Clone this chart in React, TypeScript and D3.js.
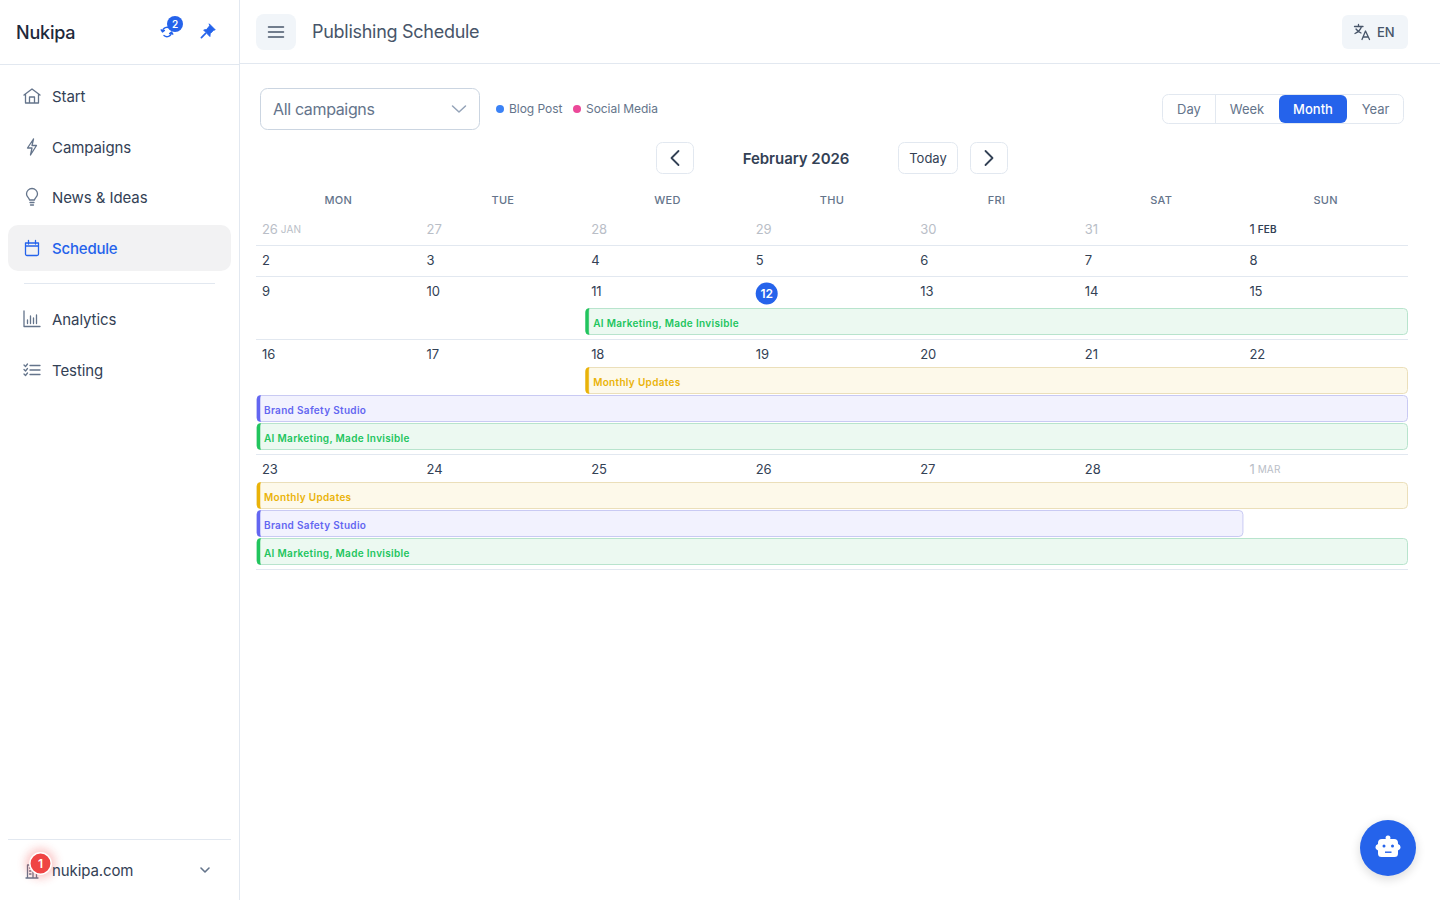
import React from 'react'
import * as d3 from 'd3'

const FONT = 'Inter, sans-serif'

const weekdays = ['MON', 'TUE', 'WED', 'THU', 'FRI', 'SAT', 'SUN']
const weeks = [
    [26, 27, 28, 29, 30, 31, 1],
    [2, 3, 4, 5, 6, 7, 8],
    [9, 10, 11, 12, 13, 14, 15],
    [16, 17, 18, 19, 20, 21, 22],
    [23, 24, 25, 26, 27, 28, 1],
]
// [week, weekday] of things that need special treatment
const mutedDays = [[0, 0], [0, 1], [0, 2], [0, 3], [0, 4], [0, 5], [4, 6]]
const monthTags = [
    {week: 0, day: 0, tag: 'JAN'},
    {week: 0, day: 6, tag: 'FEB'},
    {week: 4, day: 6, tag: 'MAR'},
]
const today = {week: 2, day: 3}

type Kind = 'green' | 'yellow' | 'indigo'
const AI = 'AI Marketing, Made Invisible'
const MONTHLY = 'Monthly Updates'
const BRAND = 'Brand Safety Studio'
// spans run from weekday "from" up to (not including) weekday "to"; lane = order within the week
const events: {title: string; kind: Kind; week: number; from: number; to: number}[] = [
    {title: AI, kind: 'green', week: 2, from: 2, to: 7},
    {title: MONTHLY, kind: 'yellow', week: 3, from: 2, to: 7},
    {title: BRAND, kind: 'indigo', week: 3, from: 0, to: 7},
    {title: AI, kind: 'green', week: 3, from: 0, to: 7},
    {title: MONTHLY, kind: 'yellow', week: 4, from: 0, to: 7},
    {title: BRAND, kind: 'indigo', week: 4, from: 0, to: 6},
    {title: AI, kind: 'green', week: 4, from: 0, to: 7},
]
const kindColors: Record<Kind, {bar: string; fill: string; line: string; text: string}> = {
    green: {bar: '#22c55e', fill: '#ecf9f1', line: '#b8e4cd', text: '#22c55e'},
    yellow: {bar: '#eab308', fill: '#fdf9ea', line: '#ebdfba', text: '#eab308'},
    indigo: {bar: '#6366f1', fill: '#f2f2fe', line: '#c9caf3', text: '#6366f1'},
}

const navTop = ['Start', 'Campaigns', 'News & Ideas', 'Schedule']
const navBottom = ['Analytics', 'Testing']
const legend = [
    {label: 'Blog Post', color: '#3b82f6'},
    {label: 'Social Media', color: '#ec4899'},
]

const col = d3.scaleLinear().domain([0, 7]).range([256, 1408])

// row layout follows how many event lanes a week holds
const LANE = 28
const rowInfo = (() => {
    let y = 214.5
    return weeks.map((_, w) => {
        const lanes = events.filter((e) => e.week === w).length
        const offset = w === today.week ? 32 : 28
        const h = lanes ? offset + lanes * LANE + 3 : 31
        const r = {top: y, offset, bottom: y + h}
        y += h
        return r
    })
})()

const Line = ({x1, x2, y, c = '#e2e8f0'}: {x1: number; x2: number; y: number; c?: string}) => (
    <line x1={x1} x2={x2} y1={y} y2={y} stroke={c} />
)

const Txt = (p: {x: number; y: number; s: number; c: string; w?: number; a?: string; ls?: number; children: React.ReactNode}) => (
    <text
        x={p.x}
        y={p.y - 0.75}
        fontSize={p.s}
        fill={p.c}
        fontWeight={p.w ?? 400}
        textAnchor={p.a ?? 'start'}
        letterSpacing={p.ls}
        dominantBaseline="central"
    >
        {p.children}
    </text>
)

const Icon = ({x, y, c = '#64748b', sw = 1.3, d}: {x: number; y: number; c?: string; sw?: number; d: string}) => (
    <path transform={`translate(${x},${y})`} d={d} fill="none" stroke={c} strokeWidth={sw} strokeLinecap="round" strokeLinejoin="round" />
)

const icons: Record<string, {y: number; d: string; c?: string}> = {
    Start: {y: 96, d: 'M-8 -1 L0 -7 L8 -1 M-6.5 -2 V7 H6.5 V-2 M-2.5 7 V1 H2.5 V7'},
    Campaigns: {y: 147, d: 'M1.5 -8 L-4.5 1 H0 L-1.5 8 L4.5 -1.5 H0 Z'},
    'News & Ideas': {y: 197, d: 'M-2.5 3 C-2.5 1 -5.5 0 -5.5 -3 A5.5 5.5 0 0 1 5.5 -3 C5.5 0 2.5 1 2.5 3 Z M-2 5.5 H2 M-1.5 8 H1.5'},
    Schedule: {y: 248, c: '#2563eb', d: 'M-6.5 -5 H6.5 V6 A1.5 1.5 0 0 1 5 7.5 H-5 A1.5 1.5 0 0 1 -6.5 6 Z M-6.5 -2 H6.5 M-3.5 -7.5 V-4 M3.5 -7.5 V-4'},
    Analytics: {y: 319, d: 'M-8 -8 V7.5 H8 M-4.5 4.5 V1 M-1.5 4.5 V-3 M1.5 4.5 V-1 M4.5 4.5 V-4'},
    Testing: {y: 370, d: 'M-2 -4.5 H8 M-2 0 H8 M-2 4.5 H8 M-8 -5 L-6.5 -3.5 L-4.5 -6 M-8 -0.5 L-6.5 1 L-4.5 -1.5 M-8 4 L-6.5 5.5 L-4.5 3'},
}

// left accent bar + rounded box for one calendar span
const EventBar = ({title, kind, week, from, to}: (typeof events)[number]) => {
    const lane = events.filter((e) => e.week === week).findIndex((e) => e.title === title)
    const colors = kindColors[kind]
    const y0 = rowInfo[week].top + rowInfo[week].offset + lane * LANE
    const x0 = col(from) + (from === 0 ? 1 : 0.5)
    const x1 = col(to) - 0.5
    const h = 26
    const bar = d3.path()
    bar.moveTo(x0 + 3.5, y0)
    bar.quadraticCurveTo(x0, y0, x0, y0 + 3.5)
    bar.lineTo(x0, y0 + h - 3.5)
    bar.quadraticCurveTo(x0, y0 + h, x0 + 3.5, y0 + h)
    bar.quadraticCurveTo(x0 + 3, y0 + h - 1.5, x0 + 3, y0 + h - 3.5)
    bar.lineTo(x0 + 3, y0 + 3.5)
    bar.quadraticCurveTo(x0 + 3, y0 + 1.5, x0 + 3.5, y0)
    bar.closePath()
    return (
        <g>
            <rect x={x0} y={y0} width={x1 - x0} height={h} rx={4} fill={colors.fill} stroke={colors.line} />
            <path d={bar.toString()} fill={colors.bar} stroke={colors.bar} strokeWidth={0.5} />
            <Txt x={col(from) + 8} y={y0 + 15} s={10} w={600} c={colors.text} ls={0.32}>{title}</Txt>
        </g>
    )
}

const Sidebar = () => (
    <g>
        <Txt x={16} y={33} s={18} w={500} c="#1e293b" ls={-0.2}>Nukipa</Txt>
        <Icon x={167} y={32} c="#2563eb" sw={1.4} d="M-4.5 -0.5 A4.5 4.5 0 0 1 3 -3.5 M4.5 0.5 A4.5 4.5 0 0 1 -3 3.5 M-5.8 -2.2 L-4.5 0 L-2.6 -1.5 M5.8 2.2 L4.5 0 L2.6 1.5" />
        <circle cx={175} cy={24} r={8} fill="#2563eb" />
        <Txt x={175} y={25} s={10} w={600} a="middle" c="#fff">2</Txt>
        <path transform="translate(208,31) scale(1.2)" fill="#2563eb" stroke="#2563eb" strokeWidth={0.8} strokeLinejoin="round"
            d="M1 -6 L6 -1 L4.6 -0.6 L1.8 2.2 L1.6 4.6 L-3.6 -0.8 L-1.2 -1.2 L1.4 -4.4 Z" />
        <path transform="translate(208,31) scale(1.2)" d="M-2 2 L-5.5 5.5" stroke="#2563eb" strokeWidth={1.4} strokeLinecap="round" />
        <Line x1={0} x2={239} y={64.5} />
        <line x1={239.5} x2={239.5} y1={0} y2={900} stroke="#e2e8f0" />

        <rect x={8} y={225} width={223} height={46} rx={10} fill="#f2f2f3" />
        <Line x1={24} x2={215} y={283.5} />
        <Line x1={8} x2={231} y={839.5} />
        {[...navTop, ...navBottom].map((name) => (
            <g key={name}>
                <Icon x={32} y={icons[name].y} c={icons[name].c} d={icons[name].d} />
                <Txt x={52} y={icons[name].y + 0.75} s={15} w={name === 'Schedule' ? 500 : 400} c={name === 'Schedule' ? '#2563eb' : '#334155'} ls={name === 'Schedule' ? -0.2 : -0.08}>{name}</Txt>
            </g>
        ))}

        <Icon x={32} y={871} c="#64748b" d="M-6 7 H6 M-4.5 7 V-6 H1 V7 M1 0 H4.5 V7 M-2.5 -3 H-1 M-2.5 0 H-1 M-2.5 3 H-1" />
        <circle cx={40.5} cy={863.5} r={15} fill="#ef4444" opacity={0.3} filter="url(#soft)" />
        <circle cx={40.5} cy={863.5} r={10.7} fill="#ef4444" stroke="#fff" strokeWidth={1.5} />
        <Txt x={40.5} y={864.5} s={12} w={600} a="middle" c="#fff">1</Txt>
        <Txt x={52} y={871} s={15} w={400} c="#334155" ls={-0.1}>nukipa.com</Txt>
        <Icon x={205} y={870} sw={1.6} d="M-4 -2 L0 2 L4 -2" />
    </g>
)

const Toolbar = () => (
    <g>
        <Line x1={240} x2={1440} y={63.5} />
        <rect x={256} y={14} width={40} height={36} rx={8} fill="#f1f5f9" />
        <Icon x={276} y={32} c="#475569" sw={1.5} d="M-7.5 -5 H7.5 M-7.5 0 H7.5 M-7.5 5 H7.5" />
        <Txt x={312} y={32} s={18} c="#475569" ls={-0.28}>Publishing Schedule</Txt>
        <rect x={1342} y={15} width={66} height={34} rx={6} fill="#f1f5f9" />
        <Icon x={1362} y={32} c="#475569" d="M-7.5 -5.5 H1 M-3.5 -7.5 V-5.5 M-0.5 -5.5 C-1.5 -2 -4 0 -7 1.5 M-6 -3 C-4.5 -1 -3 0 -1 1 M0 7.5 L3.5 -1 L7.5 7.5 M1.3 5 H6" />
        <Txt x={1377} y={32.5} s={13} w={500} c="#475569">EN</Txt>

        <rect x={260.5} y={88.5} width={219} height={41} rx={7} fill="#fff" stroke="#cbd5e1" />
        <Txt x={273} y={109.5} s={16} c="#64748b" ls={-0.35}>All campaigns</Txt>
        <Icon x={459} y={109} c="#94a3b8" sw={1.5} d="M-6.5 -3 L0 3 L6.5 -3" />

        {legend.map((l, i) => (
            <g key={l.label}>
                <circle cx={i ? 577 : 500} cy={109} r={4} fill={l.color} />
                <Txt x={i ? 586 : 509} y={109} s={12} c="#64748b" ls={-0.05}>{l.label}</Txt>
            </g>
        ))}

        <rect x={1162.5} y={94.5} width={241} height={29} rx={6} fill="#fff" stroke="#e2e8f0" />
        <line x1={1215.5} x2={1215.5} y1={95} y2={123} stroke="#e2e8f0" />
        <rect x={1279} y={95} width={68} height={28} rx={6} fill="#2563eb" />
        <Txt x={1189} y={110} s={13} a="middle" c="#64748b">Day</Txt>
        <Txt x={1247} y={110} s={13} a="middle" c="#64748b">Week</Txt>
        <Txt x={1313} y={110} s={13} w={500} a="middle" c="#fff">Month</Txt>
        <Txt x={1375.5} y={110} s={13} a="middle" c="#64748b">Year</Txt>

        <rect x={656.5} y={142.5} width={37} height={31} rx={6} fill="#fff" stroke="#e2e8f0" />
        <Icon x={675} y={158} c="#334155" sw={1.8} d="M3.5 -7 L-3.5 0 L3.5 7" />
        <Txt x={796} y={159} s={15} w={600} a="middle" c="#334155" ls={-0.05}>February 2026</Txt>
        <rect x={898.5} y={142.5} width={59} height={31} rx={6} fill="#fff" stroke="#e2e8f0" />
        <Txt x={928} y={159} s={13} w={400} a="middle" c="#334155">Today</Txt>
        <rect x={970.5} y={142.5} width={37} height={31} rx={6} fill="#fff" stroke="#e2e8f0" />
        <Icon x={989} y={158} c="#334155" sw={1.8} d="M-3.5 -7 L3.5 0 L-3.5 7" />
    </g>
)

const Calendar = () => (
    <g>
        {weekdays.map((d, i) => (
            <Txt key={d} x={(col(i) + col(i + 1)) / 2} y={200.5} s={11} w={500} a="middle" c="#64748b" ls={0.3}>{d}</Txt>
        ))}
        {weeks.map((days, w) => (
            <g key={w}>
                <Line x1={256} x2={1408} y={rowInfo[w].bottom} />
                {days.map((n, d) => {
                    const muted = mutedDays.some(([mw, md]) => mw === w && md === d)
                    const tag = monthTags.find((t) => t.week === w && t.day === d)
                    const isToday = today.week === w && today.day === d
                    const c = muted ? '#b9bec7' : '#334155'
                    const x = col(d) + 6
                    const y = rowInfo[w].top + 14
                    if (isToday) {
                        return (
                            <g key={d}>
                                <circle cx={x + 11} cy={rowInfo[w].top + 17} r={11} fill="#2563eb" />
                                <Txt x={x + 11} y={rowInfo[w].top + 17.5} s={12} w={600} a="middle" c="#fff">{n}</Txt>
                            </g>
                        )
                    }
                    return (
                        <text key={d} x={x} y={y} fontSize={13} fill={c} dominantBaseline="central" letterSpacing={-0.1}>
                            {n}
                            {tag && (
                                <tspan dx={3} fontSize={10} fontWeight={muted ? 400 : 600} letterSpacing={0.2}>{tag.tag}</tspan>
                            )}
                        </text>
                    )
                })}
            </g>
        ))}
        {events.map((e, i) => <EventBar key={i} {...e} />)}
    </g>
)

const Fab = () => (
    <g>
        <circle cx={1388} cy={851} r={29} fill="#000" opacity={0.12} filter="url(#soft)" />
        <circle cx={1388} cy={848} r={28} fill="#2563eb" />
        <path fill="#fff" d="M1388 835.5 a2.4 2.4 0 0 1 2.2 3.5 h3.8 a4 4 0 0 1 4 4 v1 a3.4 3.4 0 0 1 0 6.6 v2.9 a3.5 3.5 0 0 1 -3.5 3.5 h-13 a3.5 3.5 0 0 1 -3.5 -3.5 v-2.9 a3.4 3.4 0 0 1 0 -6.6 v-1 a4 4 0 0 1 4 -4 h3.8 a2.4 2.4 0 0 1 2.2 -3.5 Z" />
        <circle cx={1384} cy={846} r={1.5} fill="#2563eb" />
        <circle cx={1392.5} cy={846} r={1.5} fill="#2563eb" />
        <rect x={1385} y={851.5} width={6.5} height={1.4} fill="#2563eb" />
    </g>
)

export default function App() {
    return (
        <svg width={1440} height={900} fontFamily={FONT} style={{position: 'fixed', left: 0, top: 0, background: '#fff'}}>
            <defs>
                <filter id="soft" x="-50%" y="-50%" width="200%" height="200%">
                    <feGaussianBlur stdDeviation="5" />
                </filter>
            </defs>
            <Sidebar />
            <Toolbar />
            <Calendar />
            <Fab />
        </svg>
    )
}
